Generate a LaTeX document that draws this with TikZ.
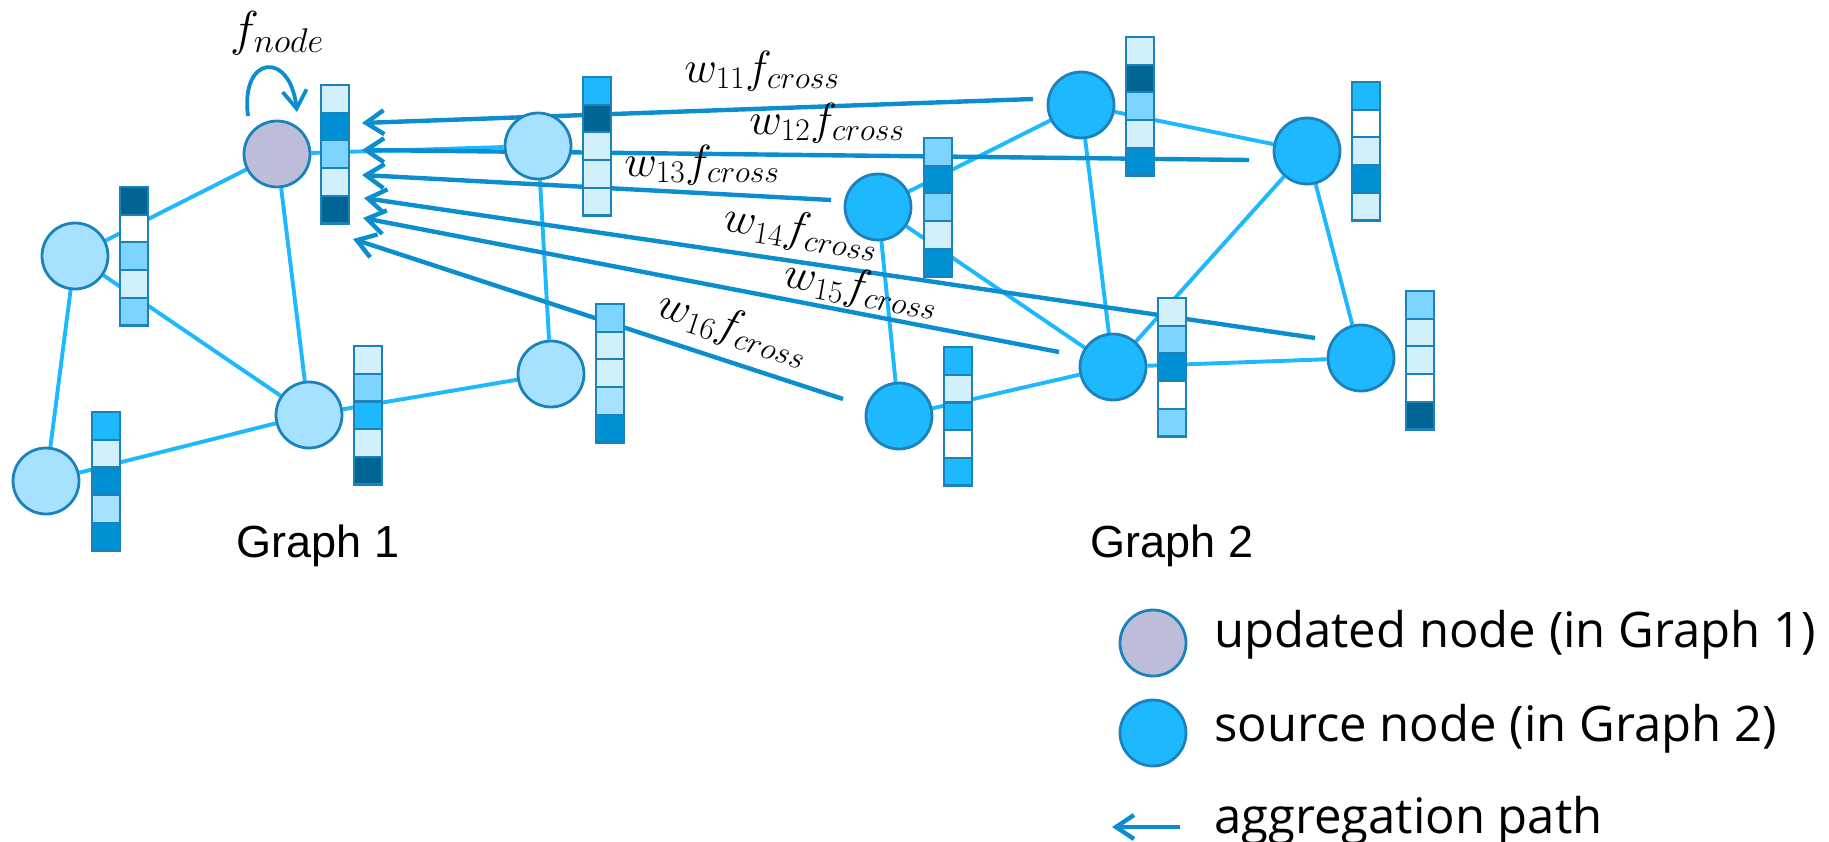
\RequirePackage{fix-cm}
\documentclass[tikz,border=0pt]{standalone}
\usepackage{fontspec}
\newfontfamily\labelfont{Liberation Sans}
\newfontfamily\legendfont{Open Sans}
\usetikzlibrary{arrows.meta}

% cell shades of the feature vectors
\definecolor{cellL}{HTML}{D2F0FC}
\definecolor{cellM}{HTML}{7DD4FF}
\definecolor{cellB}{HTML}{1EB8FF}
\definecolor{cellD}{HTML}{0090D4}
\definecolor{cellK}{HTML}{006592}
\definecolor{cellA}{HTML}{A6E2FF}
\definecolor{cellW}{HTML}{FFFFFF}
% lines and node fills
\definecolor{edgeblue}{HTML}{1EB8FF}
\definecolor{aggblue}{HTML}{0A8ED0}
\definecolor{rimblue}{HTML}{1C82BC}
\definecolor{tgtfill}{HTML}{A6E2FF}
\definecolor{updfill}{HTML}{BDBDDA}
\definecolor{srcfill}{HTML}{1EB8FF}

\pgfdeclarelayer{back}
\pgfsetlayers{back,main}

\tikzset{
  gnode/.style={circle, minimum size=66pt, inner sep=0pt, draw=rimblue, line width=2.8pt},
  tgtnode/.style={gnode, fill=tgtfill},
  updnode/.style={gnode, fill=updfill},
  srcnode/.style={gnode, fill=srcfill},
  gedge/.style={edgeblue, line width=3.9pt},
  agg/.style={aggblue, line width=4.4pt, -{Straight Barb[length=18pt, width=24pt]}},
  cellbox/.style={draw=rimblue, line width=2.2pt},
  mathlbl/.style={font=\fontsize{45}{54}\selectfont, inner sep=0pt},
  graphlbl/.style={font=\labelfont\fontsize{45}{54}\selectfont, anchor=base, inner sep=0pt},
  legendlbl/.style={font=\legendfont\fontsize{49}{58}\selectfont, anchor=base west, inner sep=0pt}
}

% a column of five feature cells: top-left corner x, y and the five fills
\newcommand{\featcol}[3]{%
  \foreach \c [count=\i from 0] in {#3} {
    \draw[cellbox, fill=\c] ({#1},{#2+27.7*\i}) rectangle ++(28,27.7);
  }%
}

\begin{document}
\begin{tikzpicture}[x=1pt,y=-1pt]
\useasboundingbox (0,0) rectangle (1829,842);

% ---------- Graph 1 ----------
\node[updnode] (P) at (277,154) {};
\node[tgtnode] (A) at (75,256) {};
\node[tgtnode] (B) at (46,481) {};
\node[tgtnode] (C) at (309,415) {};
\node[tgtnode] (D) at (538,146) {};
\node[tgtnode] (E) at (551,374) {};

% ---------- Graph 2 ----------
\node[srcnode] (F) at (1081,105) {};
\node[srcnode] (G) at (1307,151) {};
\node[srcnode] (H) at (878,207) {};
\node[srcnode] (I) at (899,416) {};
\node[srcnode] (J) at (1113,367) {};
\node[srcnode] (K) at (1361,358) {};

% end points of the aggregation paths
\coordinate (s1) at (1033,99);  \coordinate (t1) at (362,123);
\coordinate (s2) at (1249,160); \coordinate (t2) at (362,150);
\coordinate (s3) at (831,200);  \coordinate (t3) at (362,175);
\coordinate (s4) at (1315,338); \coordinate (t4) at (364,198);
\coordinate (s5) at (1059,352); \coordinate (t5) at (363,218);
\coordinate (s6) at (843,399);  \coordinate (t6) at (353,239);
\coordinate (lp0) at (248,116); \coordinate (lp1) at (297,112);

\begin{pgfonlayer}{back}
  % graph edges
  \draw[gedge] (P) -- (A);
  \draw[gedge] (P) -- (C);
  \draw[gedge] (P) -- (D);
  \draw[gedge] (A) -- (C);
  \draw[gedge] (A) -- (B);
  \draw[gedge] (B) -- (C);
  \draw[gedge] (C) -- (E);
  \draw[gedge] (D) -- (E);
  \draw[gedge] (F) -- (H);
  \draw[gedge] (H) -- (J);
  \draw[gedge] (H) -- (I);
  \draw[gedge] (F) -- (G);
  \draw[gedge] (F) -- (J);
  \draw[gedge] (G) -- (J);
  \draw[gedge] (G) -- (K);
  \draw[gedge] (I) -- (J);
  \draw[gedge] (J) -- (K);
  % cross-graph aggregation paths
  \draw[agg] (s1) -- (t1);
  \draw[agg] (s2) -- (t2);
  \draw[agg] (s3) -- (t3);
  \draw[agg] (s4) -- (t4);
  \draw[agg] (s5) -- (t5);
  \draw[agg] (s6) -- (t6);
\end{pgfonlayer}

% self update of the node
\draw[agg, line width=3.8pt] (lp0) .. controls (240,55) and (290,50) .. (lp1);

% feature vectors
\featcol{321}{85}{cellL,cellD,cellM,cellL,cellK}
\featcol{120}{187}{cellK,cellW,cellM,cellL,cellM}
\featcol{92}{412}{cellB,cellL,cellD,cellA,cellD}
\featcol{354}{346}{cellL,cellM,cellB,cellL,cellK}
\featcol{583}{77}{cellB,cellK,cellL,cellL,cellL}
\featcol{596}{304}{cellM,cellL,cellL,cellA,cellD}
\featcol{1126}{37}{cellL,cellK,cellM,cellL,cellD}
\featcol{1352}{82}{cellB,cellW,cellL,cellD,cellL}
\featcol{924}{138}{cellM,cellD,cellM,cellL,cellD}
\featcol{944}{347}{cellB,cellL,cellB,cellW,cellB}
\featcol{1158}{298}{cellL,cellM,cellD,cellW,cellM}
\featcol{1406}{291}{cellM,cellL,cellL,cellW,cellK}

% labels
\node[mathlbl, font=\fontsize{49}{58}\selectfont] (fnode) at (277,33) {$f_{node}$};
\node[mathlbl] (w11) at (762,71) {$w_{11}f_{cross}$};
\node[mathlbl] (w12) at (827,123) {$w_{12}f_{cross}$};
\node[mathlbl] (w13) at (702,165) {$w_{13}f_{cross}$};
\node[mathlbl, rotate=-9] (w14) at (801,232) {$w_{14}f_{cross}$};
\node[mathlbl, rotate=-10] (w15) at (861,289) {$w_{15}f_{cross}$};
\node[mathlbl, rotate=-18] (w16) at (733,329) {$w_{16}f_{cross}$};

\node[graphlbl] (g1) at (318,557) {Graph 1};
\node[graphlbl] (g2) at (1172,557) {Graph 2};

% legend
\node[updnode] (lgU) at (1153,643) {};
\node[srcnode] (lgS) at (1153,733) {};
\coordinate (lgA0) at (1180,827);
\coordinate (lgA1) at (1112,827);
\draw[agg] (lgA0) -- (lgA1);
\node[legendlbl] (lgUt) at (1214,647) {updated node (in Graph 1)};
\node[legendlbl] (lgSt) at (1214,741) {source node (in Graph 2)};
\node[legendlbl] (lgAt) at (1214,833) {aggregation path};
\end{tikzpicture}
\end{document}
